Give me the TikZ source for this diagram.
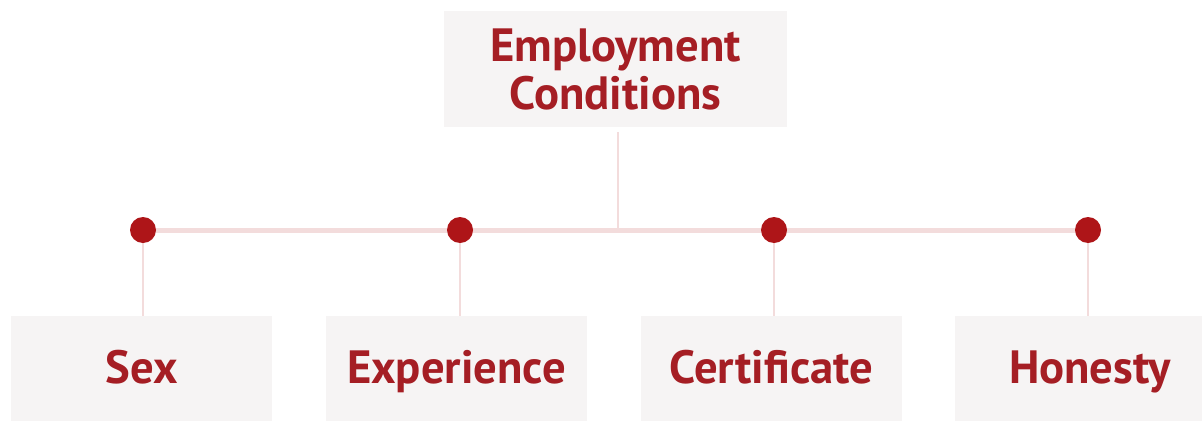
\documentclass[tikz,border=0pt]{standalone}
\usepackage{fontspec}
\setmainfont{PT Sans}
\usetikzlibrary{backgrounds}
\definecolor{boxfill}{HTML}{F6F4F4}
\definecolor{txtred}{HTML}{A51E24}
\definecolor{dotred}{HTML}{AE1518}
\definecolor{linepink}{HTML}{F3DCDC}
\tikzset{
  leafbox/.style={fill=boxfill, draw=none, inner sep=0pt, outer sep=0pt,
    minimum width=195.75pt, minimum height=78.75pt,
    text height=25pt, text depth=3.25pt,
    font=\fontsize{35}{36}\selectfont\bfseries, text=txtred},
  rootbox/.style={fill=boxfill, draw=none, inner sep=0pt, outer sep=0pt,
    minimum width=257.25pt, minimum height=87pt, align=center,
    font=\fontsize{35}{36}\selectfont\bfseries, text=txtred},
  dotnode/.style={circle, fill=dotred, draw=none, inner sep=0pt, minimum size=19.5pt},
  hline/.style={draw=linepink, line width=3.75pt},
  vline/.style={draw=linepink, line width=2pt},
}
\begin{document}
\begin{tikzpicture}[x=0.75pt,y=-0.75pt]
\useasboundingbox (0,0) rectangle (1202,421);
\node[rootbox] (top) at (615.5,69) {Employment\\Conditions};
\node[leafbox] (b1) at (141.5,368.5) {Sex};
\node[leafbox] (b2) at (456.5,368.5) {Experience};
\node[leafbox] (b3) at (771.5,368.5) {Certificate};
\node[leafbox, minimum width=202.5pt] (b4) at (1090,368.5) {Honesty};
\node[dotnode] (d1) at (143,230) {};
\node[dotnode] (d2) at (460,230) {};
\node[dotnode] (d3) at (774,230) {};
\node[dotnode] (d4) at (1088,230) {};
\coordinate (j) at (618,228);
\begin{scope}[on background layer]
\draw[hline] (d1.center) -- (d4.center);
\draw[vline] (top.south -| j) ++(0,5) -- (j);
\draw[vline] (d1.center) -- (d1.center |- b1.north);
\draw[vline] (d2.center) -- (d2.center |- b2.north);
\draw[vline] (d3.center) -- (d3.center |- b3.north);
\draw[vline] (d4.center) -- (d4.center |- b4.north);
\end{scope}
\end{tikzpicture}
\end{document}
